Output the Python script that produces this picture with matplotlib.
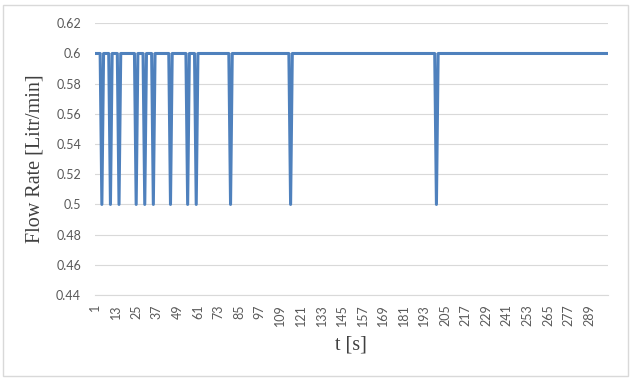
import numpy as np
import matplotlib
matplotlib.use("Agg")
import matplotlib.pyplot as plt
from matplotlib.patches import Rectangle

# samples t = 1..300, flow stays at 0.6 except short drops to 0.5
t_values = np.arange(1, 301)
normal_rate = 0.6
drop_rate = 0.5
drop_times = [5, 10, 15, 25, 30, 35, 45, 55, 60, 80, 115, 200]

flow = np.full(len(t_values), normal_rate)
for t in drop_times:
    flow[t - 1] = drop_rate

y_ticks = [0.44, 0.46, 0.48, 0.5, 0.52, 0.54, 0.56, 0.58, 0.6, 0.62]
x_tick_step = 12

W, H = 631, 383
fig = plt.figure(figsize=(W / 100, H / 100), dpi=100)
ax = fig.add_axes([95 / W, 1 - 295 / H, 513 / W, (295 - 23.3) / H])

ax.plot(t_values, flow, color="#4f81bd", lw=2.2, solid_joinstyle="round",
        solid_capstyle="round", zorder=3)

ax.set_xlim(t_values[0], t_values[-1])
ax.set_ylim(y_ticks[0], y_ticks[-1])
ax.set_yticks(y_ticks)
ax.set_yticklabels([f"{v:g}" for v in y_ticks])
xt = t_values[::x_tick_step]
ax.set_xticks(xt)
ax.set_xticklabels([str(v) for v in xt], rotation=90)

ax.grid(axis="y", color="#d9d9d9", lw=0.8)
ax.set_axisbelow(True)
for side in ["top", "right", "left"]:
    ax.spines[side].set_visible(False)
ax.spines["bottom"].set_color("#d9d9d9")
ax.spines["bottom"].set_linewidth(0.8)

ax.tick_params(axis="both", length=0, colors="#595959", labelsize=9)
ax.tick_params(axis="y", pad=10)
ax.tick_params(axis="x", pad=6.5)
for lab in ax.get_xticklabels() + ax.get_yticklabels():
    lab.set_fontfamily("Lato")

fig.text(35 / W, 1 - 159 / H, "Flow Rate [Litr/min]", rotation=90,
         ha="center", va="center", fontsize=14.5, color="#404040",
         fontfamily="Liberation Serif")
fig.text(351 / W, 1 - 345 / H, "t [s]", ha="center", va="center",
         fontsize=14.5, color="#404040", fontfamily="Liberation Serif")

# chart border
fig.patches.append(Rectangle((3 / W, 1 - 376 / H), 625 / W, 371 / H,
                             transform=fig.transFigure, fill=False,
                             edgecolor="#d9d9d9", lw=1))

fig.savefig("out.png", dpi=100)
